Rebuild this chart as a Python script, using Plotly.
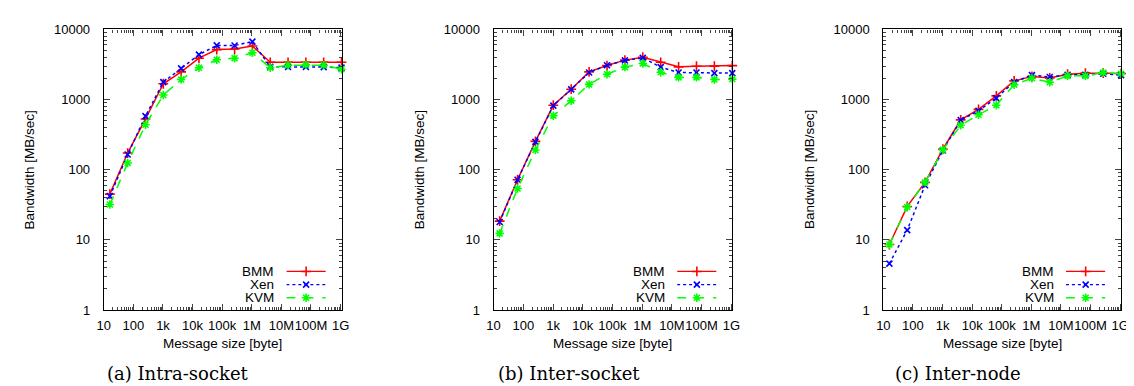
import plotly.graph_objects as go

W, H = 1134, 386

sizes = [16, 64, 256, 1024, 4096, 16384, 65536, 262144, 1048576, 4194304,
         16777216, 67108864, 268435456, 1073741824]

bmm_a = [45, 173, 530, 1680, 2480, 3890, 5160, 5250, 5800, 3400, 3400, 3400, 3400, 3400]
xen_a = [42, 165, 582, 1770, 2780, 4370, 5920, 5900, 6710, 2930, 2930, 2930, 2900, 2850]
kvm_a = [32, 125, 438, 1160, 1930, 2840, 3690, 3890, 4650, 2840, 3090, 3120, 3090, 2700]

bmm_b = [18.5, 72, 254, 832, 1406, 2480, 3055, 3650, 4020, 3400, 2930, 2990, 2990, 3050]
xen_b = [18, 72, 250, 820, 1400, 2430, 3090, 3620, 3930, 2900, 2430, 2430, 2380, 2380]
kvm_b = [12.4, 54, 191, 589, 964, 1645, 2300, 2900, 3260, 2450, 2070, 2070, 1930, 1960]

bmm_c = [8.6, 30, 66, 196, 514, 726, 1128, 1848, 2140, 2030, 2300, 2380, 2380, 2350]
xen_c = [4.6, 13.8, 60, 188, 510, 690, 1050, 1780, 2230, 2100, 2250, 2260, 2330, 2230]
kvm_c = [8.6, 29.5, 66, 192, 430, 608, 832, 1630, 2010, 1770, 2180, 2180, 2420, 2330]

series_names = ["BMM", "Xen", "KVM"]
captions = ["(a) Intra-socket", "(b) Inter-socket", "(c) Inter-node"]
x_tickvals = [1e1, 1e2, 1e3, 1e4, 1e5, 1e6, 1e7, 1e8, 1e9]
x_ticktext = ["10", "100", "1k", "10k", "100k", "1M", "10M", "100M", "1G"]
y_tickvals = [1, 10, 100, 1000, 10000]
y_ticktext = ["1", "10", "100", "1000", "10000"]

panels = [(bmm_a, xen_a, kvm_a), (bmm_b, xen_b, kvm_b), (bmm_c, xen_c, kvm_c)]
# plot-area pixel extents (left, right)
px_lr = [(90, 331), (485, 727), (880, 1121)]
TOP, BOT = 15, 307

styles = [
    dict(color="#ff0000", dash="solid", symbol="cross-thin", msize=7),
    dict(color="#0000ff", dash="dot", symbol="x-thin", msize=6),
    dict(color="#00ff00", dash="dash", symbol="asterisk", msize=7),
]

FONT = "Liberation Sans, Arial, sans-serif"
TFS = 13.5
fig = go.Figure()
layout = dict(
    width=W, height=H, margin=dict(l=0, r=0, t=0, b=0),
    paper_bgcolor="white", plot_bgcolor="white", showlegend=False,
    font=dict(family=FONT, size=TFS, color="black"),
)
annotations = []

def px(x):
    return x / W

def py(y):
    return 1 - y / H

for i, (vals, (L, R)) in enumerate(zip(panels, px_lr)):
    n = i + 1
    xa = "xaxis" if n == 1 else f"xaxis{n}"
    ya = "yaxis" if n == 1 else f"yaxis{n}"
    xr = "x" if n == 1 else f"x{n}"
    yr = "y" if n == 1 else f"y{n}"
    layout[xa] = dict(
        domain=[px(L), px(R)], type="log", range=[1, 9.035], anchor=yr,
        tickvals=x_tickvals, ticktext=x_ticktext, ticks="inside", ticklen=6,
        tickangle=0,
        showline=True, linecolor="black", linewidth=1.2, mirror="ticks",
        showgrid=False, zeroline=False, tickfont=dict(size=13, family=FONT),
        minor=dict(ticks="inside", ticklen=3, dtick="D1", showgrid=False),
        ticklabelstandoff=3,
    )
    layout[ya] = dict(
        domain=[py(BOT), py(TOP)], type="log", range=[0, 4], anchor=xr,
        tickvals=y_tickvals, ticktext=y_ticktext, ticks="inside", ticklen=6,
        showline=True, linecolor="black", linewidth=1.2, mirror="ticks",
        showgrid=False, zeroline=False, tickfont=dict(size=13, family=FONT),
        minor=dict(ticks="inside", ticklen=3, dtick="D1", showgrid=False),
        ticklabelstandoff=10,
    )
    for name, v, st in zip(series_names, vals, styles):
        fig.add_trace(go.Scatter(
            x=sizes, y=v, mode="lines+markers", name=name, xaxis=xr, yaxis=yr,
            line=dict(color=st["color"], width=1.5, dash=st["dash"]),
            marker=dict(symbol=st["symbol"], size=st["msize"],
                        line=dict(color=st["color"], width=1.6)),
            cliponaxis=False,
        ))

    # legend keys on an overlay axis
    kn = n + 3
    kxa, kya, kxr, kyr = f"xaxis{kn}", f"yaxis{kn}", f"x{kn}", f"y{kn}"
    layout[kxa] = dict(domain=[px(R - 56), px(R - 16)], range=[0, 1], visible=False,
                       anchor=kyr, fixedrange=True)
    layout[kya] = dict(domain=[py(301), py(260)], range=[0, 3], visible=False,
                       anchor=kxr, fixedrange=True)
    for j, (name, st) in enumerate(zip(series_names, styles)):
        row = 2.5 - j
        fig.add_trace(go.Scatter(
            x=[0, 0.5, 1], y=[row, row, row], mode="lines", xaxis=kxr, yaxis=kyr,
            line=dict(color=st["color"], width=1.3, dash=st["dash"]),
            hoverinfo="skip",
        ))
        fig.add_trace(go.Scatter(
            x=[0.5], y=[row], mode="markers", xaxis=kxr, yaxis=kyr,
            marker=dict(symbol=st["symbol"], size=st["msize"],
                        line=dict(color=st["color"], width=1.6)),
            hoverinfo="skip",
        ))
        annotations.append(dict(
            text=name, xref="paper", yref="paper", x=px(R - 66),
            y=py(260 + 13.67 * (j + 0.5)), xanchor="right", yanchor="middle",
            showarrow=False, font=dict(size=TFS, family=FONT),
        ))

    cx = (L + R) / 2
    annotations.append(dict(
        text="Message size [byte]", xref="paper", yref="paper", x=px(cx), y=py(342),
        xanchor="center", yanchor="middle", showarrow=False, font=dict(size=TFS, family=FONT),
    ))
    annotations.append(dict(
        text="Bandwidth [MB/sec]", xref="paper", yref="paper", x=px(L - 75),
        y=py((TOP + BOT) / 2), xanchor="center", yanchor="middle", textangle=-90,
        showarrow=False, font=dict(size=TFS, family=FONT),
    ))
    annotations.append(dict(
        text=captions[i], xref="paper", yref="paper", x=px(cx - 45), y=py(373),
        xanchor="center", yanchor="middle", showarrow=False,
        font=dict(size=18, family="DejaVu Serif, serif"),
    ))

layout["annotations"] = annotations
fig.update_layout(**layout)
fig.write_html("out.html")
